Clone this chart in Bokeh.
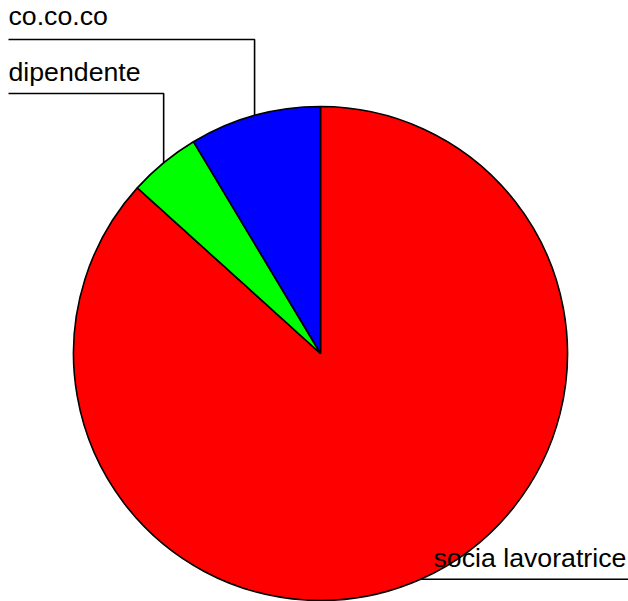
import math
from bokeh.plotting import figure
from bokeh.models import Range1d, ColumnDataSource
from bokeh.core.properties import value
from bokeh.embed import file_html
from bokeh.resources import INLINE

# data (clockwise from 12 o'clock)
labels = ["socia lavoratrice", "dipendente", "co.co.co"]
shares = [86.7, 4.7, 8.6]
colors = ["#FF0000", "#00FF00", "#0000FF"]

W, H = 628, 601
R_PX = 247.0
CX, CY = 320.0, 353.0  # pie centre in plot pixels


def dx(px):
    return (px - CX) / R_PX


def dy(py):
    return (CY - py) / R_PX


p = figure(width=W, height=H, output_backend="svg", toolbar_location=None,
           x_range=Range1d(dx(0), dx(W)), y_range=Range1d(dy(H), dy(0)),
           min_border=0)
p.axis.visible = False
p.grid.visible = False
p.outline_line_color = None
p.background_fill_color = "white"

total = sum(shares)
starts, ends, mids = [], [], []
a = math.pi / 2
for s in shares:
    b = a - s / total * 2 * math.pi
    starts.append(b)
    ends.append(a)
    mids.append((a + b) / 2)
    a = b

src = ColumnDataSource(dict(start=starts, end=ends, color=colors))
p.wedge(x=0, y=0, radius=1.0, start_angle="start", end_angle="end",
        direction="anticlock", fill_color="color", line_color="black",
        line_width=1.6, source=src)

left_x = dx(8)
right_x = dx(W)
font = value("Liberation Sans")
fs = "26.7px"

# socia lavoratrice: horizontal line to the right
m = mids[0]
ex, ey = math.cos(m), math.sin(m)
p.line([ex, right_x], [ey, ey], line_color="black", line_width=1.6)
p.text(x=[dx(433)], y=[dy(557)], text=[labels[0]], text_font=font,
       text_font_size=fs, text_baseline="alphabetic", text_align="left",
       text_color="black")

# dipendente and co.co.co: vertical up then horizontal to the left
levels = {1: (dy(93), dy(71)), 2: (dy(39), dy(15))}
for i in (1, 2):
    m = mids[i]
    ex, ey = math.cos(m), math.sin(m)
    ly, ty = levels[i]
    p.line([ex, ex, left_x], [ey, ly, ly], line_color="black", line_width=1.6)
    p.text(x=[left_x], y=[ty], text=[labels[i]], text_font=font,
           text_font_size=fs, text_baseline="alphabetic", text_align="left",
           text_color="black")

open("out.html", "w").write(file_html(p, INLINE))
